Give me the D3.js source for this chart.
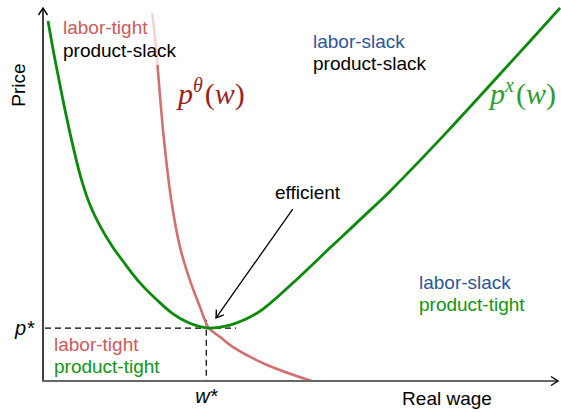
<!DOCTYPE html>
<html>
<head>
<meta charset="utf-8">
<script src="https://cdn.jsdelivr.net/npm/d3@7"></script>
<style>
body { margin: 0; background: #fff; }
text { font-family: "Liberation Sans", Arial, sans-serif; }
.math { font-family: "Liberation Serif", "DejaVu Serif", serif; }
</style>
</head>
<body>
<script>
// values (real wage, price) in arbitrary units
var wageX = [0.097, 0.233, 0.388, 0.563, 0.738, 0.913, 1.107, 1.340, 1.592, 1.883, 2.214, 2.524, 2.816, 3.049, 3.204, 3.631, 3.942, 4.272, 4.932, 5.573, 6.214, 6.738, 7.845, 9.126, 10.04];
var priceX = [9.65, 8.61, 7.53, 6.41, 5.44, 4.72, 4.16, 3.62, 3.14, 2.63, 2.17, 1.80, 1.57, 1.46, 1.42, 1.50, 1.66, 1.93, 2.73, 3.57, 4.40, 5.09, 6.68, 8.61, 10.00];

var wageTheta = [2.12, 2.19, 2.27, 2.35, 2.49, 2.66, 2.85, 3.05, 3.22, 3.44, 3.69, 4.35, 5.22];
var priceTheta = [9.87, 9.00, 7.67, 6.46, 4.85, 3.59, 2.71, 1.98, 1.42, 1.18, 0.91, 0.43, 0.00];

var wStar = 3.17, pStar = 1.42;
var thetaFadeAbove = 8.47;   // top bit of p-theta is drawn pale

var width = 561, height = 413;
var x = d3.scaleLinear().domain([0, 10]).range([43, 558]);
var y = d3.scaleLinear().domain([0, 10]).range([381, 8]);

var svg = d3.select("body").append("svg")
  .attr("width", width)
  .attr("height", height);

var defs = svg.append("defs");
defs.append("marker")
  .attr("id", "arr")
  .attr("markerUnits", "userSpaceOnUse")
  .attr("viewBox", "-10 -6 12 12")
  .attr("refX", 0).attr("refY", 0)
  .attr("markerWidth", 12).attr("markerHeight", 12)
  .attr("orient", "auto")
  .append("path")
  .attr("d", "M-7,-4.5L0,0L-7,4.5")
  .attr("fill", "none")
  .attr("stroke", "#000")
  .attr("stroke-width", 1.4);

defs.append("clipPath").attr("id", "clipTop")
  .append("rect").attr("x", 0).attr("y", 0).attr("width", width).attr("height", y(thetaFadeAbove));
defs.append("clipPath").attr("id", "clipBot")
  .append("rect").attr("x", 0).attr("y", y(thetaFadeAbove)).attr("width", width).attr("height", height);

// dashed guides
svg.append("line")
  .attr("x1", x(0) + 2).attr("x2", x(3.75))
  .attr("y1", y(pStar)).attr("y2", y(pStar))
  .attr("stroke", "#000").attr("stroke-width", 1.2).attr("stroke-dasharray", "6,4");
svg.append("line")
  .attr("x1", x(wStar)).attr("x2", x(wStar))
  .attr("y1", y(1.64)).attr("y2", y(0))
  .attr("stroke", "#000").attr("stroke-width", 1.2).attr("stroke-dasharray", "6,4");

var line = d3.line()
  .x(function(d) { return x(d[0]); })
  .y(function(d) { return y(d[1]); })
  .curve(d3.curveCatmullRom.alpha(0.5));

var thetaPts = d3.zip(wageTheta, priceTheta);
var xPts = d3.zip(wageX, priceX);

svg.append("path")
  .attr("d", line(thetaPts))
  .attr("clip-path", "url(#clipTop)")
  .attr("fill", "none").attr("stroke", "#d46f6f").attr("stroke-opacity", 0.3).attr("stroke-width", 2.6);
svg.append("path")
  .attr("d", line(thetaPts))
  .attr("clip-path", "url(#clipBot)")
  .attr("fill", "none").attr("stroke", "#d46f6f").attr("stroke-width", 2.6);

svg.append("path")
  .attr("d", line(xPts))
  .attr("fill", "none").attr("stroke", "#0b8a0b").attr("stroke-width", 2.8);

// axes
svg.append("line")
  .attr("x1", x(0)).attr("x2", x(0))
  .attr("y1", y(0) + 1).attr("y2", 8)
  .attr("stroke", "#000").attr("stroke-width", 1.5)
  .attr("marker-end", "url(#arr)");
svg.append("line")
  .attr("x1", x(0) - 1).attr("x2", 557)
  .attr("y1", y(0)).attr("y2", y(0))
  .attr("stroke", "#666").attr("stroke-width", 2);
svg.append("path")
  .attr("d", "M551,376.5L558,381L551,385.5")
  .attr("fill", "none").attr("stroke", "#000").attr("stroke-width", 1.4);

// axis titles
svg.append("text")
  .attr("transform", "translate(25,85) rotate(-90)")
  .attr("text-anchor", "middle")
  .style("font-size", "19px")
  .text("Price");
svg.append("text")
  .attr("x", 447).attr("y", 405)
  .attr("text-anchor", "middle")
  .style("font-size", "19px")
  .text("Real wage");

svg.append("text")
  .attr("x", 34).attr("y", 335)
  .attr("text-anchor", "end")
  .style("font-size", "20px").style("font-style", "italic")
  .text("p*");
svg.append("text")
  .attr("x", x(wStar)).attr("y", 403)
  .attr("text-anchor", "middle")
  .style("font-size", "20px").style("font-style", "italic")
  .text("w*");

// region labels
var red = "#cc5a5a", blue = "#2f5597", green = "#139413", black = "#000";
var regions = [
  [63, 34, "labor-tight", red], [63, 57, "product-slack", black],
  [313, 48, "labor-slack", blue], [313, 70, "product-slack", black],
  [419, 289, "labor-slack", blue], [419, 311, "product-tight", green],
  [54, 351, "labor-tight", red], [54, 373, "product-tight", green]
];
svg.selectAll("text.region")
  .data(regions)
  .enter().append("text")
  .attr("class", "region")
  .attr("x", function(d) { return d[0]; })
  .attr("y", function(d) { return d[1]; })
  .attr("fill", function(d) { return d[3]; })
  .style("font-size", "19px")
  .text(function(d) { return d[2]; });

// efficient annotation
svg.append("text")
  .attr("x", 275).attr("y", 199)
  .style("font-size", "19px")
  .text("efficient");
svg.append("line")
  .attr("x1", x(4.85)).attr("y1", y(4.61))
  .attr("x2", x(3.36)).attr("y2", y(1.69))
  .attr("stroke", "#000").attr("stroke-width", 1.3)
  .attr("marker-end", "url(#arr)");

// curve names
function mathLabel(px, py, sup, color) {
  var t = svg.append("text").attr("class", "math")
    .attr("x", px).attr("y", py)
    .attr("fill", color)
    .style("font-size", "30px");
  t.append("tspan").style("font-style", "italic").text("p");
  t.append("tspan").attr("dy", -12).style("font-size", "20px").style("font-style", "italic").text(sup);
  t.append("tspan").attr("dy", 12).attr("dx", 2).text("(");
  t.append("tspan").style("font-style", "italic").text("w");
  t.append("tspan").text(")");
}
mathLabel(178, 104, "\u03b8", "#a01e1e");
mathLabel(490, 104, "x", "#2e9d2e");
</script>
</body>
</html>
